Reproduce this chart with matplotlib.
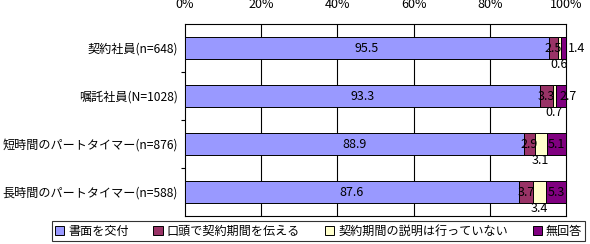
import matplotlib
matplotlib.use('Agg')
import matplotlib.pyplot as plt
from matplotlib.patches import Patch

plt.rcParams['font.family'] = ['Noto Sans CJK JP', 'DejaVu Sans']

# data
categories = ['契約社員(n=648)', '嘱託社員(N=1028)', '短時間のパートタイマー(n=876)', '長時間のパートタイマー(n=588)']
series_names = ['書面を交付', '口頭で契約期間を伝える', '契約期間の説明は行っていない', '無回答']
written = [95.5, 93.3, 88.9, 87.6]
verbal = [2.5, 3.3, 2.9, 3.7]
no_expl = [0.6, 0.7, 3.1, 3.4]
no_answer = [1.4, 2.7, 5.1, 5.3]
colors = ['#9999FF', '#993366', '#FFFFCC', '#800080']
xticks = [0, 20, 40, 60, 80, 100]

fig = plt.figure(figsize=(5.9, 2.44), dpi=100)
ax = fig.add_axes([185/590, 28/244, 381/590, 192/244])

series = [written, verbal, no_expl, no_answer]
ypos = list(range(len(categories)))
left = [0.0] * len(categories)
for vals, c in zip(series, colors):
    ax.barh(ypos, vals, left=left, height=0.44, color=c, edgecolor='black',
            linewidth=0.7, zorder=3)
    left = [l + v for l, v in zip(left, vals)]

fs = 9
for i in ypos:
    # big share, centered
    ax.text(written[i] / 2, i, f'{written[i]:.1f}', ha='center', va='center', fontsize=fs, zorder=4)
    # verbal, centered in segment
    x0 = written[i]
    ax.text(x0 + verbal[i] / 2, i, f'{verbal[i]:.1f}', ha='center', va='center', fontsize=fs, zorder=4)
    # no explanation, below the bar
    x1 = x0 + verbal[i]
    ax.text(x1 + no_expl[i] / 2, i + 0.34, f'{no_expl[i]:.1f}', ha='center', va='center', fontsize=fs, zorder=4)
    # no answer
    x2 = x1 + no_expl[i]
    if i == 0:
        ax.text(100.4, i, f'{no_answer[i]:.1f}', ha='left', va='center', fontsize=fs, zorder=4, clip_on=False)
    elif i == 1:
        ax.text(100.6, i, f'{no_answer[i]:.1f}', ha='center', va='center', fontsize=fs, zorder=4, clip_on=False)
    else:
        ax.text(x2 + no_answer[i] / 2, i, f'{no_answer[i]:.1f}', ha='center', va='center', fontsize=fs, zorder=4, clip_on=False)

ax.set_xlim(0, 100)
ax.set_ylim(len(categories) - 0.5, -0.5)
ax.xaxis.tick_top()
ax.set_xticks(xticks)
ax.set_xticklabels([f'{t}%' for t in xticks], fontsize=fs)
ax.tick_params(axis='x', length=0, pad=9)
for t in xticks[1:-1]:
    ax.axvline(t, color='black', linewidth=0.8, zorder=1)

ax.set_yticks(ypos)
ax.set_yticklabels(categories, fontsize=8.7)
ax.tick_params(axis='y', which='major', length=0, pad=5)
ax.set_yticks([0.5, 1.5, 2.5], minor=True)
ax.tick_params(axis='y', which='minor', length=3, width=0.8, direction='out')
for s in ax.spines.values():
    s.set_linewidth(0.8)
    s.set_color('black')

handles = [Patch(facecolor=c, edgecolor='black', linewidth=0.7) for c in colors]
leg = fig.legend(handles, series_names, loc='center', bbox_to_anchor=(318.5/590, 13/244),
                 ncol=4, fontsize=8.7, frameon=True, fancybox=False, handlelength=0.8,
                 handleheight=0.8, handletextpad=0.3, columnspacing=2.05, borderpad=0.25,
                 borderaxespad=0)
leg.get_frame().set_edgecolor('black')
leg.get_frame().set_linewidth(0.8)

fig.savefig('out.png', dpi=100)
